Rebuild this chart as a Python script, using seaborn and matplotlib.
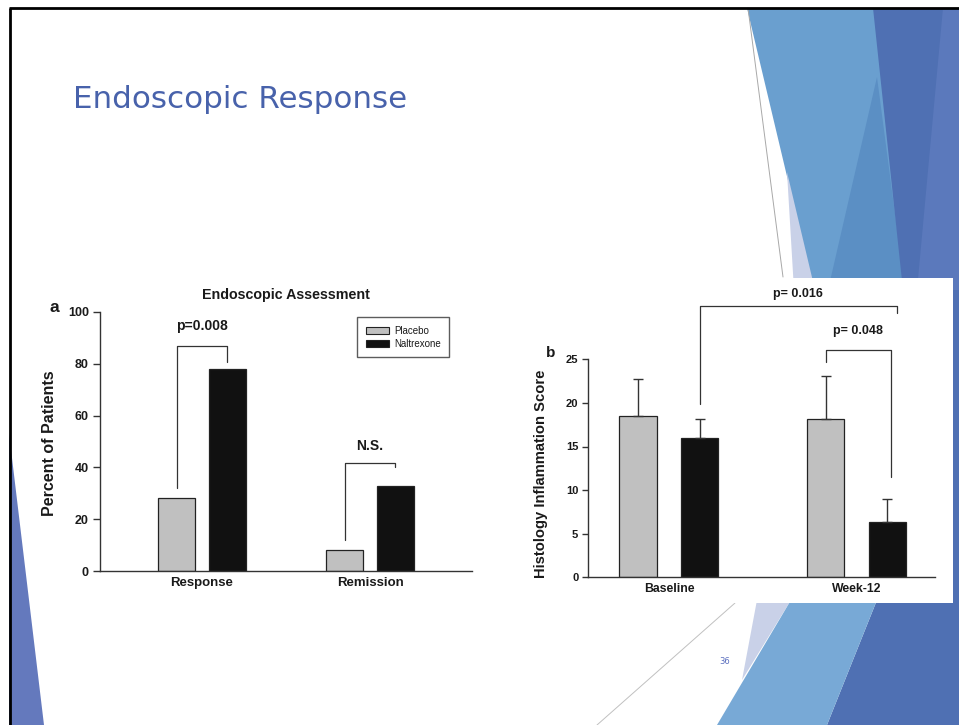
import matplotlib
matplotlib.use("Agg")
import matplotlib.pyplot as plt
from matplotlib.patches import Polygon, Rectangle, Patch
import pandas as pd
import seaborn as sns

# ---- panel a: endoscopic assessment (% of patients) ----
endo_outcomes = ["Response", "Remission"]
endo_placebo = [28, 8]
endo_naltrexone = [78, 33]
endo_yticks = [0, 20, 40, 60, 80, 100]

# ---- panel b: histology inflammation score (mean + SD) ----
hist_timepoints = ["Baseline", "Week-12"]
hist_placebo = [18.5, 18.1]
hist_naltrexone = [16.0, 6.3]
hist_placebo_sd = [4.2, 5.0]
hist_naltrexone_sd = [2.1, 2.7]
hist_yticks = [0, 5, 10, 15, 20, 25]

treatments = ["Placebo", "Naltrexone"]
palette = {"Placebo": "#c0c0c0", "Naltrexone": "#111111"}

W, H = 959, 725
sns.set_theme(style="white")
plt.rcParams["font.family"] = ["Liberation Sans", "DejaVu Sans"]

fig = plt.figure(figsize=(W / 100, H / 100), dpi=100)
fig.patch.set_facecolor("white")


def px_rect(x0, y0, x1, y1):
    return [x0 / W, 1 - y1 / H, (x1 - x0) / W, (y1 - y0) / H]


# ---- slide background layer (pixel coordinates) ----
bg = fig.add_axes([0, 0, 1, 1], zorder=0)
bg.set_xlim(0, W)
bg.set_ylim(H, 0)
bg.axis("off")

shapes = [
    # top-right facets
    ([(747, 8), (875, 8), (905, 290), (814, 290)], "#6a9fcf"),
    ([(877, 77), (905, 290), (828, 290)], "#5b8fc4"),
    ([(787, 172), (815, 290), (794, 290)], "#c9d1e8"),
    ([(873, 8), (959, 8), (959, 725), (827, 725), (877, 600), (903, 290)], "#4f70b3"),
    ([(943, 8), (959, 8), (959, 290), (917, 290)], "#5b79bc"),
    # bottom-right facets
    ([(757, 600), (791, 600), (742, 680)], "#c9d1e8"),
    ([(791, 600), (877, 600), (827, 725), (717, 725)], "#78a9d6"),
    # left edge facet
    ([(9, 433), (9, 725), (44, 725)], "#6479bd"),
]
for pts, col in shapes:
    bg.add_patch(Polygon(pts, closed=True, facecolor=col, edgecolor="none", zorder=1))
bg.plot([748, 783], [8, 277], color="#a8a8a8", lw=0.7, zorder=2)
bg.plot([597, 735], [725, 603], color="#c0c0c0", lw=0.7, zorder=2)
# white card behind panel b
bg.add_patch(Rectangle((526, 278), 953 - 526, 603 - 278, facecolor="white",
                       edgecolor="none", zorder=3))
# slide frame
bg.plot([9, 959], [8, 8], color="black", lw=2.0, zorder=4, solid_capstyle="butt")
bg.plot([9.5, 9.5], [8, 725], color="black", lw=2.0, zorder=4, solid_capstyle="butt")

fig.text(73 / W, 1 - 100 / H, "Endoscopic Response", fontsize=22.3, color="#4862ab",
         family="DejaVu Sans", ha="left", va="center")
fig.text(725 / W, 1 - 662 / H, "36", fontsize=6, color="#5b6fbf",
         family="DejaVu Sans", ha="center", va="center")

TXT = "#1a1a1a"
LINE = "#333333"


def style_axes(ax, yticks, tick_size, tick_len):
    sns.despine(ax=ax)
    for s in ("left", "bottom"):
        ax.spines[s].set_color(LINE)
        ax.spines[s].set_linewidth(1.0)
    ax.set_yticks(yticks)
    ax.tick_params(axis="y", left=True, length=tick_len, width=1.0, color=LINE,
                   direction="out", labelsize=tick_size, labelcolor=TXT, pad=3)
    ax.tick_params(axis="x", bottom=False, length=0, labelcolor=TXT, pad=4)
    for lbl in ax.get_yticklabels():
        lbl.set_fontweight("bold")
    ax.set_facecolor("none")
    ax.set_xlabel("")


def bar_centers(ax):
    return [[p.get_x() + p.get_width() / 2 for p in c] for c in ax.containers]


def bracket(ax, xl, xr, yl, ytop, yr, label, ty, size):
    ax.plot([xl, xl, xr, xr], [yl, ytop, ytop, yr], color=LINE, lw=0.9, clip_on=False)
    ax.text((xl + xr) / 2, ty, label, ha="center", va="center", fontsize=size,
            fontweight="bold", color=TXT, clip_on=False)


# ---- panel a ----
ax_a = fig.add_axes(px_rect(100, 312, 472, 571), zorder=2)
endo_df = pd.DataFrame({
    "outcome": endo_outcomes * 2,
    "treatment": [t for t in treatments for _ in endo_outcomes],
    "percent": endo_placebo + endo_naltrexone,
})
sns.barplot(data=endo_df, x="outcome", y="percent", hue="treatment",
            order=endo_outcomes, hue_order=treatments, palette=palette,
            width=0.6, gap=0.27, edgecolor="#222222", linewidth=0.9,
            errorbar=None, legend=False, saturation=1, ax=ax_a)
ax_a.set_xlim(-0.607, 1.607)
ax_a.set_ylim(0, 100)
style_axes(ax_a, endo_yticks, 9, 5)
ax_a.tick_params(axis="x", labelsize=9.5)
for lbl in ax_a.get_xticklabels():
    lbl.set_fontweight("bold")
ax_a.set_ylabel("Percent of Patients", fontsize=11.5, fontweight="bold", color=TXT)
ax_a.yaxis.set_label_coords(-0.116, 0.494)
ax_a.set_title("Endoscopic Assessment", fontsize=10.3, fontweight="bold", color=TXT, pad=9)

ca = bar_centers(ax_a)
bracket(ax_a, ca[0][0], ca[1][0], 32, 87, 80.6, "p=0.008", 94.6, 10)
bracket(ax_a, ca[0][1], ca[1][1], 12, 41.8, 40, "N.S.", 48.4, 10)

handles = [Patch(facecolor=palette[t], edgecolor="#222222", linewidth=0.8, label=t)
           for t in treatments]
leg = ax_a.legend(handles=handles, loc="upper left",
                  bbox_to_anchor=(357 / W, 1 - 317 / H), bbox_transform=fig.transFigure,
                  frameon=True, fancybox=False, edgecolor=LINE, fontsize=7,
                  handlelength=2.4, handleheight=0.75, labelspacing=0.3,
                  borderpad=0.9, handletextpad=0.5, borderaxespad=0)
leg.get_frame().set_linewidth(1.0)
for t in leg.get_texts():
    t.set_color(TXT)

fig.text(54 / W, 1 - 307 / H, "a", fontsize=12.5, fontweight="bold", color=TXT,
         ha="center", va="center")

# ---- panel b ----
ax_b = fig.add_axes(px_rect(588, 359.3, 935, 577.3), zorder=2)
hist_df = pd.DataFrame({
    "timepoint": hist_timepoints * 2,
    "treatment": [t for t in treatments for _ in hist_timepoints],
    "score": hist_placebo + hist_naltrexone,
})
sns.barplot(data=hist_df, x="timepoint", y="score", hue="treatment",
            order=hist_timepoints, hue_order=treatments, palette=palette,
            width=0.66, gap=0.4, edgecolor="#222222", linewidth=0.9,
            errorbar=None, legend=False, saturation=1, ax=ax_b)
ax_b.set_xlim(-0.432, 1.419)
ax_b.set_ylim(0, 25)
style_axes(ax_b, hist_yticks, 8, 4)
ax_b.tick_params(axis="x", labelsize=8.8)
for lbl in ax_b.get_xticklabels():
    lbl.set_fontweight("bold")
ax_b.set_ylabel("Histology Inflammation Score", fontsize=10.6, fontweight="bold", color=TXT)
ax_b.yaxis.set_label_coords(-0.115, 0.474)

cb = bar_centers(ax_b)
for centers, means, sds in ((cb[0], hist_placebo, hist_placebo_sd),
                            (cb[1], hist_naltrexone, hist_naltrexone_sd)):
    ax_b.errorbar(centers, means, yerr=[[0] * len(sds), sds], fmt="none",
                  ecolor=LINE, elinewidth=1.0, capsize=3.5, capthick=1.0, zorder=3)

bracket(ax_b, cb[1][0], cb[1][1] + 0.05, 19.9, 31.1, 30.3, "p= 0.016", 32.5, 9)
bracket(ax_b, cb[0][1], cb[1][1] + 0.02, 24.7, 26.1, 11.5, "p= 0.048", 28.2, 9)

fig.text(551 / W, 1 - 353 / H, "b", fontsize=11, fontweight="bold", color=TXT,
         ha="center", va="center")

fig.savefig("out.png", dpi=100, facecolor="white")
